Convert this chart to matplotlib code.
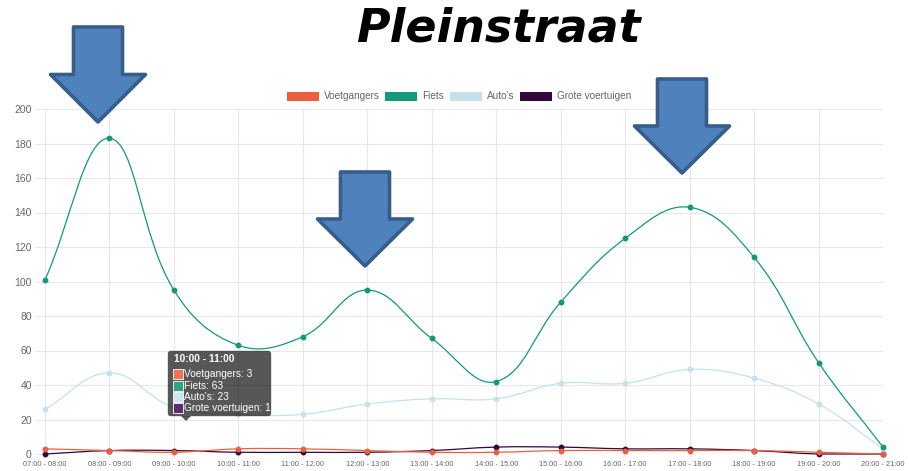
import numpy as np
import matplotlib
matplotlib.use("Agg")
import matplotlib.pyplot as plt
from matplotlib.path import Path
from matplotlib.patches import PathPatch, Rectangle, Polygon, FancyBboxPatch

categories = ["07:00 - 08:00", "08:00 - 09:00", "09:00 - 10:00", "10:00 - 11:00",
              "11:00 - 12:00", "12:00 - 13:00", "13:00 - 14:00", "14:00 - 15:00",
              "15:00 - 16:00", "16:00 - 17:00", "17:00 - 18:00", "18:00 - 19:00",
              "19:00 - 20:00", "20:00 - 21:00"]
voetgangers = [3, 2, 1, 3, 3, 2, 1, 1, 2, 2, 2, 2, 1, 0]
fiets = [101, 183, 95, 63, 68, 95, 67, 42, 88, 125, 143, 114, 53, 4]
autos = [26, 47, 27, 23, 23, 29, 32, 32, 41, 41, 49, 44, 29, 3]
grote = [0, 2, 2, 1, 1, 1, 2, 4, 4, 3, 3, 2, 0, 0]
series_names = ["Voetgangers", "Fiets", "Auto's", "Grote voertuigen"]
series_colors = ["#EC5F3E", "#12997A", "#C3E2EC", "#32083F"]
tooltip_colors = ["#EE7354", "#2AA585", "#CDE6EE", "#5A2E6E"]
yticks = [0, 20, 40, 60, 80, 100, 120, 140, 160, 180, 200]
title = "Pleinstraat"
tooltip_title = "10:00 - 11:00"
tooltip_index = 3

W, H = 909, 471
fig = plt.figure(figsize=(W / 100, H / 100), dpi=100)
ax_l, ax_r, ax_t, ax_b = 45, 883, 109, 454
ax = fig.add_axes([ax_l / W, 1 - ax_b / H, (ax_r - ax_l) / W, (ax_b - ax_t) / H])
ax.set_xlim(0, len(categories) - 1)
ax.set_ylim(0, 200)
sx = (ax_r - ax_l) / (len(categories) - 1)
sy = (ax_b - ax_t) / 200.0


def spline_path(xs, ys, t=0.4):
    X = np.array(xs, float) * sx
    Y = np.array(ys, float) * sy
    n = len(X)
    pcp, ncp = [], []
    for i in range(n):
        p = max(i - 1, 0)
        q = min(i + 1, n - 1)
        d01 = np.hypot(X[i] - X[p], Y[i] - Y[p])
        d12 = np.hypot(X[q] - X[i], Y[q] - Y[i])
        tot = d01 + d12
        s01 = d01 / tot if tot else 0
        s12 = d12 / tot if tot else 0
        fa, fb = t * s01, t * s12
        a = (X[i] - fa * (X[q] - X[p]), Y[i] - fa * (Y[q] - Y[p]))
        b = (X[i] + fb * (X[q] - X[p]), Y[i] + fb * (Y[q] - Y[p]))
        pcp.append(a)
        ncp.append(b)
    ymax = 200 * sy

    def clamp(pt):
        return (min(max(pt[0], 0), X[-1]) / sx, min(max(pt[1], 0), ymax) / sy)

    verts = [(X[0] / sx, Y[0] / sy)]
    codes = [Path.MOVETO]
    for i in range(n - 1):
        verts += [clamp(ncp[i]), clamp(pcp[i + 1]), (X[i + 1] / sx, Y[i + 1] / sy)]
        codes += [Path.CURVE4] * 3
    return Path(verts, codes)


# grid
grid_c = "#e8e8e8"
for v in yticks:
    ax.axhline(v, color="#c8c8c8" if v == 0 else grid_c, lw=0.8, zorder=0)
for i in range(len(categories)):
    ax.axvline(i, color=grid_c, lw=0.8, zorder=0)
for s in ax.spines.values():
    s.set_visible(False)

xs = np.arange(len(categories))
data = [voetgangers, fiets, autos, grote]
for k in [3, 2, 1, 0]:
    path = spline_path(xs, data[k])
    ax.add_patch(PathPatch(path, facecolor="none", edgecolor=series_colors[k],
                           lw=0.9, zorder=2 + (3 - k), clip_on=False))
    ax.plot(xs, data[k], "o", ms=3.2, color=series_colors[k], mec=series_colors[k],
            zorder=2.5 + (3 - k), clip_on=False)

ax.set_xticks(xs)
ax.set_xticklabels(categories, fontsize=5.3, color="#666666", family="Liberation Sans")
ax.set_yticks(yticks)
ax.set_yticklabels([str(v) for v in yticks], fontsize=7.5, color="#666666",
                   family="Liberation Sans")
ax.tick_params(axis="y", length=7.5, width=0.8, color=grid_c, pad=2)
ax.tick_params(axis="x", length=3, width=0.8, color=grid_c, pad=2)


def fx(x):
    return x / W


def fy(y):
    return 1 - y / H


# title
fig.text(fx(498), fy(29), title, fontsize=33, fontweight="bold", fontstyle="italic",
         family="DejaVu Sans", ha="center", va="center", color="black")

# legend
leg_boxes = [287, 385, 450, 520]
for k in range(4):
    fig.patches.append(Rectangle((fx(leg_boxes[k]), fy(101)), 32 / W, 9 / H,
                                 transform=fig.transFigure, facecolor=series_colors[k],
                                 edgecolor="none"))
    fig.text(fx(leg_boxes[k] + 37), fy(96), series_names[k], fontsize=7.2,
             color="#666666", family="Liberation Sans", ha="left", va="center")

# tooltip
tl, tt, tr, tb = 168, 351, 271, 416
box = FancyBboxPatch((fx(tl + 3), fy(tb - 3)), (tr - tl - 6) / W, (tb - tt - 6) / H,
                     boxstyle="round,pad=0.0035", transform=fig.transFigure,
                     facecolor=(0, 0, 0, 0.66), edgecolor="none", zorder=10,
                     mutation_aspect=W / H)
fig.patches.append(box)
fig.patches.append(Polygon([(fx(181), fy(416)), (fx(191), fy(416)), (fx(186), fy(421))],
                           closed=True, transform=fig.transFigure,
                           facecolor=(0, 0, 0, 0.66), edgecolor="none", zorder=10))
fig.text(fx(174), fy(359), tooltip_title, fontsize=7.3, fontweight="bold",
         color="white", family="Liberation Sans", ha="left", va="center", zorder=11)
row_y = [374, 386, 397, 408]
for k in range(4):
    fig.patches.append(Rectangle((fx(173), fy(row_y[k] + 5)), 10 / W, 10 / H,
                                 transform=fig.transFigure, facecolor=tooltip_colors[k],
                                 edgecolor="white", lw=0.6, zorder=11))
    fig.text(fx(184.5), fy(row_y[k]), f"{series_names[k]}: {data[k][tooltip_index]}",
             fontsize=7.3, color="white", family="Liberation Sans", ha="left",
             va="center", zorder=11)

# arrows (decorative callouts)
arrows = [(98, 27, 122), (365, 172, 266), (682, 79, 173)]
for cx, top, tip in arrows:
    hw_shaft, hw_head = 24.5, 47.5
    head_top = top + (tip - top) * 0.5
    pts = [(cx - hw_shaft, top), (cx + hw_shaft, top), (cx + hw_shaft, head_top),
           (cx + hw_head, head_top), (cx, tip), (cx - hw_head, head_top),
           (cx - hw_shaft, head_top)]
    fig.patches.append(Polygon([(fx(a), fy(b)) for a, b in pts], closed=True,
                               transform=fig.transFigure, facecolor="#4F81BD",
                               edgecolor="#385D8A", lw=2.6, joinstyle="round",
                               zorder=12))

fig.savefig("out.png", dpi=100)
